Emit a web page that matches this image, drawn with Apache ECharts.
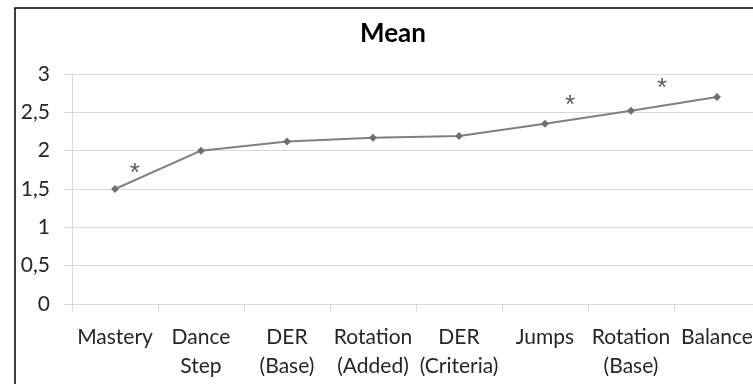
<!DOCTYPE html>
<html>
<head>
<meta charset="utf-8">
<script src="https://cdn.jsdelivr.net/npm/echarts@6/dist/echarts.min.js"></script>
<style>
html,body{margin:0;padding:0;background:#fff;}
#chart{width:753px;height:384px;}
</style>
</head>
<body>
<div id="chart"></div>
<script>
const categories = ["Mastery", "Dance\nStep", "DER\n(Base)", "Rotation\n(Added)", "DER\n(Criteria)", "Jumps", "Rotation\n(Base)", "Balance"];
const meanValues = [1.50, 2.00, 2.12, 2.17, 2.19, 2.35, 2.52, 2.70];
const yTicks = [0, 0.5, 1, 1.5, 2, 2.5, 3];
const starX = [0.23, 5.29, 6.36];
const starY = [1.77, 2.66, 2.88];

const FONT = "Lato";
const chart = echarts.init(document.getElementById('chart'), null, {renderer: 'canvas'});
chart.setOption({
  animation: false,
  backgroundColor: '#fff',
  title: {
    text: 'Mean',
    left: 360,
    top: 21,
    padding: 0,
    textStyle: {fontFamily: FONT, fontSize: 26, fontWeight: 'bold', color: '#000'}
  },
  graphic: [{
    type: 'rect',
    shape: {x: 15, y: 8, width: 800, height: 420},
    style: {fill: 'none', stroke: '#000', lineWidth: 1.5},
    silent: true,
    z: 100
  }],
  grid: {left: 72, top: 74, right: -7, bottom: 80, containLabel: false, outerBoundsMode: 'none'},
  xAxis: [{
    type: 'category',
    data: categories,
    boundaryGap: true,
    axisLine: {show: true, lineStyle: {color: '#d9d9d9', width: 1}},
    axisTick: {show: true, length: 8, interval: 0, lineStyle: {color: '#d9d9d9'}},
    axisLabel: {interval: 0, margin: 19, fontFamily: FONT, fontSize: 21, lineHeight: 29, color: '#262626', align: 'center'},
    splitLine: {show: false}
  }, {
    type: 'value',
    min: -0.5,
    max: 7.5,
    show: false
  }],
  yAxis: {
    type: 'value',
    min: yTicks[0],
    max: yTicks[yTicks.length - 1],
    interval: 0.5,
    axisLine: {show: true, onZero: false, lineStyle: {color: '#d9d9d9'}},
    axisTick: {show: true, length: 8, lineStyle: {color: '#d9d9d9'}},
    axisLabel: {margin: 22, fontFamily: FONT, fontSize: 21, color: '#262626',
      formatter: v => String(v).replace('.', ',')},
    splitLine: {show: true, lineStyle: {color: '#d9d9d9', width: 1}}
  },
  series: [{
    type: 'line',
    xAxisIndex: 0,
    data: meanValues,
    symbol: 'diamond',
    symbolSize: 8,
    lineStyle: {color: '#808080', width: 2},
    itemStyle: {color: '#6f6f6f'},
    z: 3
  }, {
    type: 'scatter',
    xAxisIndex: 1,
    data: starX.map((x, i) => [x, starY[i]]),
    symbolSize: 0,
    label: {show: true, position: 'inside', formatter: '*', offset: [0, 6], fontFamily: 'Liberation Sans', fontSize: 26, color: '#333'},
    z: 4
  }]
});
</script>
</body>
</html>
